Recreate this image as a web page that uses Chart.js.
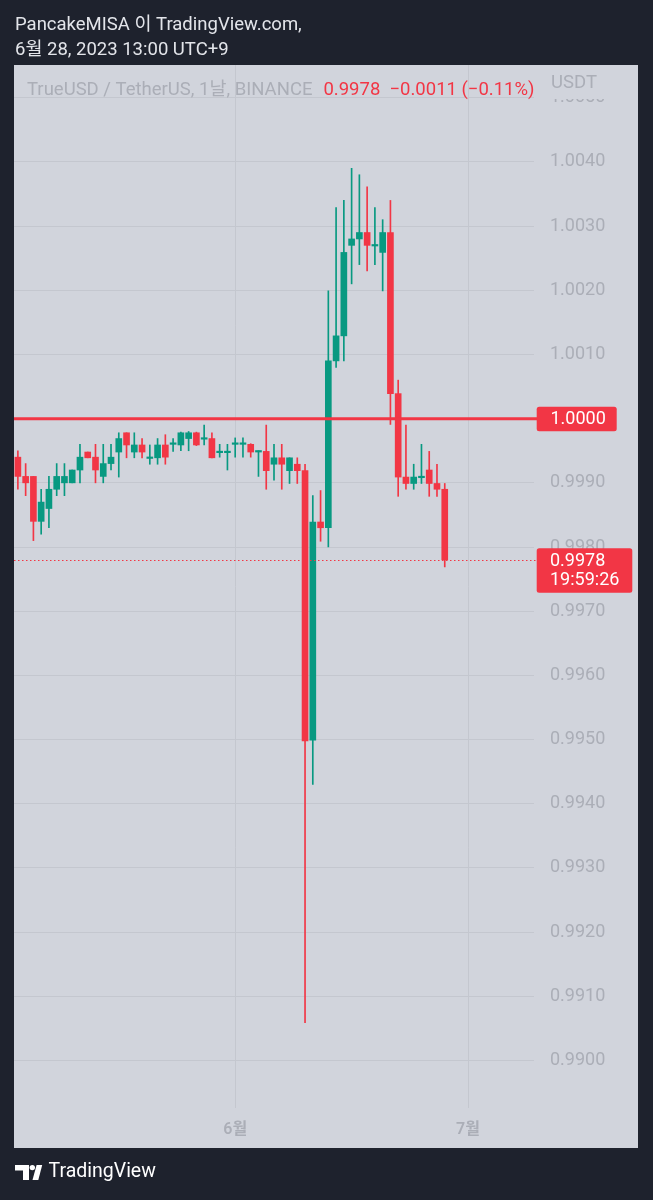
<!DOCTYPE html>
<html><head><meta charset="utf-8">
<script src="https://cdn.jsdelivr.net/npm/chart.js@4"></script>
<style>html,body{margin:0;padding:0;background:#1e222d;}canvas{display:block}</style>
</head><body>
<canvas id="c" width="653" height="1200"></canvas>
<script>
// ---- data ----
const startYear = 2023, startMonth = 5, startDay = 4; // first visible daily candle (May 4)
const dayCount = 67;                                   // days spanned by the time axis
const dates = [];
for (let i = 0; i < dayCount; i++) {
  const d = new Date(Date.UTC(startYear, startMonth - 1, startDay + i));
  dates.push(String(d.getUTCMonth() + 1).padStart(2, '0') + '-' + String(d.getUTCDate()).padStart(2, '0'));
}
const monthLabels = { '06-01': '6월', '07-01': '7월' };

const opens  = [0.9994,0.9991,0.9991,0.9984,0.9986,0.9989,0.9990,0.9990,0.9992,0.99948,
                0.9994,0.9991,0.9993,0.99948,0.99978,0.99948,0.99959,0.99938,0.99939,0.99959,
                0.99960,0.99959,0.99969,0.99978,0.99968,0.99969,0.99947,0.99947,0.99960,0.99960,
                0.99960,0.99948,0.99949,0.99929,0.99939,0.99919,0.99929,0.99919,0.99499,0.99839,
                0.99830,1.00090,1.00129,1.00270,1.00280,1.00290,1.00269,1.00259,1.00290,1.00039,
                0.99909,0.99899,0.99908,0.99920,0.99899,0.99890];
const highs  = [0.9995,0.9993,0.9991,0.9989,0.9991,0.9993,0.9993,0.9992,0.9996,0.99948,
                0.9996,0.9996,0.9996,0.99978,0.99978,0.99978,0.99969,0.99959,0.99969,0.99975,
                0.99969,0.99979,0.99980,0.99979,0.99990,0.99978,0.99960,0.99960,0.99970,0.99970,
                0.99961,0.99950,0.99990,0.99960,0.99960,0.99939,0.99939,0.99929,0.99880,0.99888,
                1.00199,1.00329,1.00340,1.00390,1.00380,1.00361,1.00329,1.00310,1.00340,1.00060,
                0.99990,0.99929,0.99960,0.99949,0.99929,0.99899];
const lows   = [0.9989,0.9988,0.9981,0.9982,0.9983,0.9988,0.9988,0.9990,0.9990,0.99939,
                0.9990,0.9990,0.9992,0.99909,0.99939,0.99939,0.99939,0.99929,0.99929,0.99929,
                0.99949,0.99950,0.99950,0.99958,0.99959,0.99939,0.99940,0.99920,0.99940,0.99940,
                0.99940,0.99910,0.99890,0.99904,0.99890,0.99899,0.99899,0.99059,0.99430,0.99809,
                0.99800,1.00080,1.00090,1.00210,1.00240,1.00230,1.00240,1.00199,0.99991,0.99879,
                0.99890,0.99890,0.99899,0.99879,0.99879,0.99769];
const closes = [0.9991,0.9990,0.9984,0.9987,0.9989,0.9991,0.9991,0.9992,0.9994,0.99939,
                0.9992,0.9993,0.9994,0.99969,0.99959,0.99959,0.99948,0.99940,0.99959,0.99940,
                0.99961,0.99978,0.99978,0.99959,0.99969,0.99939,0.99948,0.99948,0.99961,0.99961,
                0.99948,0.99949,0.99919,0.99939,0.99929,0.99939,0.99919,0.99498,0.99839,0.99830,
                1.00090,1.00129,1.00259,1.00280,1.00290,1.00270,1.00270,1.00290,1.00039,0.99909,
                0.99899,0.99909,0.99909,0.99899,0.99890,0.99780];
const yTicks = [0.9900,0.9910,0.9920,0.9930,0.9940,0.9950,0.9960,0.9970,0.9980,0.9990,
                1.0000,1.0010,1.0020,1.0030,1.0040,1.0050];
const yMin = 0.98926, yMax = 1.00551;
const levelPrice = 1.0000;      // drawn horizontal line
const countdown = '19:59:26';
const symbolText = 'TrueUSD / TetherUS, 1날, BINANCE';
const headerLines = ['PancakeMISA 이 TradingView.com,', '6월 28, 2023 13:00 UTC+9'];

// ---- styling ----
const FONT = 'Roboto, "Noto Sans CJK KR", "Noto Sans", sans-serif';
const C = { dark:'#1e222d', panel:'#d1d4dc', grid:'#c4c7cf', text:'#abaeb7',
            red:'#f23645', green:'#089981', white:'#e3e5ea' };
const panel = { l:14, t:65, r:638, b:1148 };

const lastClose = closes[closes.length - 1];
const prevClose = closes[closes.length - 2];
const chg = lastClose - prevClose;
const pct = chg / prevClose * 100;
const sgn = v => (v < 0 ? '\u2212' : '+');
const changeText = lastClose.toFixed(4) + '  ' + sgn(chg) + Math.abs(chg).toFixed(4) +
                   ' (' + sgn(pct) + Math.abs(pct).toFixed(2) + '%)';

const candleColors = opens.map((o, i) => closes[i] >= o ? C.green : C.red);

function roundRect(ctx, x, y, w, h, r) {
  ctx.beginPath();
  ctx.moveTo(x + r, y); ctx.lineTo(x + w - r, y); ctx.quadraticCurveTo(x + w, y, x + w, y + r);
  ctx.lineTo(x + w, y + h - r); ctx.quadraticCurveTo(x + w, y + h, x + w - r, y + h);
  ctx.lineTo(x + r, y + h); ctx.quadraticCurveTo(x, y + h, x, y + h - r);
  ctx.lineTo(x, y + r); ctx.quadraticCurveTo(x, y, x + r, y); ctx.closePath();
}

const tvPlugin = {
  id: 'tv',
  beforeDraw(chart) {
    const ctx = chart.ctx;
    ctx.save();
    ctx.fillStyle = C.dark; ctx.fillRect(0, 0, chart.width, chart.height);
    ctx.fillStyle = C.panel; ctx.fillRect(panel.l, panel.t, panel.r - panel.l, panel.b - panel.t);
    ctx.restore();
  },
  afterDatasetsDraw(chart) {
    const { ctx, chartArea: a, scales: { y } } = chart;
    ctx.save();
    const ly = y.getPixelForValue(levelPrice);
    ctx.strokeStyle = C.red; ctx.lineWidth = 3;
    ctx.beginPath(); ctx.moveTo(panel.l, ly); ctx.lineTo(a.right + 3, ly); ctx.stroke();
    const py = Math.round(y.getPixelForValue(lastClose)) + 0.5;
    ctx.lineWidth = 1; ctx.setLineDash([1.5, 2.5]);
    ctx.beginPath(); ctx.moveTo(panel.l, py); ctx.lineTo(a.right + 3, py); ctx.stroke();
    ctx.restore();
  },
  afterDraw(chart) {
    const { ctx, chartArea: a, scales: { y } } = chart;
    ctx.save();
    // hide top part of price axis under legend row
    ctx.fillStyle = C.panel;
    ctx.fillRect(a.right + 1, panel.t, panel.r - a.right - 1, 34);
    ctx.textBaseline = 'middle'; ctx.textAlign = 'left';
    ctx.font = '18.5px ' + FONT; ctx.fillStyle = C.text;
    ctx.fillText('USDT', 551, 83);
    // legend
    ctx.font = '18.5px ' + FONT;
    ctx.fillText(symbolText, 27, 90);
    const w = ctx.measureText(symbolText).width;
    ctx.fillStyle = C.red;
    ctx.fillText(changeText, 27 + w + 11, 90);
    // level label
    const ly = y.getPixelForValue(levelPrice);
    ctx.fillStyle = C.red;
    roundRect(ctx, a.right + 2.7, ly - 12, 80, 24.5, 2.5); ctx.fill();
    ctx.fillStyle = '#ffffff'; ctx.font = '18px ' + FONT;
    ctx.fillText(levelPrice.toFixed(4), 550.5, ly + 1);
    // last price label
    const py = y.getPixelForValue(lastClose);
    ctx.fillStyle = C.red;
    roundRect(ctx, a.right + 2.7, py - 11.5, 95.6, 44.5, 2.5); ctx.fill();
    ctx.fillStyle = '#ffffff';
    ctx.fillText(lastClose.toFixed(4), 550, py + 1.5);
    ctx.fillText(countdown, 550, py + 20.5);
    // header
    ctx.fillStyle = C.white; ctx.font = '18.5px ' + FONT;
    ctx.fillText(headerLines[0], 15, 25);
    ctx.fillText(headerLines[1], 15, 50);
    // TradingView logo
    ctx.fillStyle = '#ffffff';
    ctx.fillRect(15, 1165, 14, 5.5);
    ctx.fillRect(23, 1165, 6, 15);
    ctx.beginPath(); ctx.arc(32.3, 1167.6, 2.7, 0, Math.PI * 2); ctx.fill();
    ctx.beginPath();
    ctx.moveTo(32.5, 1180); ctx.lineTo(38.3, 1180); ctx.lineTo(42.2, 1165); ctx.lineTo(36.6, 1165);
    ctx.closePath(); ctx.fill();
    ctx.font = '19.5px ' + FONT;
    ctx.fillText('TradingView', 48.5, 1172.5);
    ctx.restore();
  }
};

new Chart(document.getElementById('c'), {
  type: 'bar',
  data: {
    labels: dates,
    datasets: [
      { label: 'body', data: opens.map((o, i) => [o, closes[i]]),
        backgroundColor: candleColors, borderWidth: 0, barThickness: 6,
        minBarLength: 1.5, grouped: false },
      { label: 'wick', data: lows.map((l, i) => [l, highs[i]]),
        backgroundColor: candleColors, borderWidth: 0, barThickness: 1, grouped: false }
    ]
  },
  options: {
    responsive: false, animation: false, devicePixelRatio: 1,
    layout: { padding: { left: 14, top: 65, right: 15, bottom: 52 } },
    plugins: { legend: { display: false }, tooltip: { enabled: false } },
    scales: {
      x: {
        offset: true,
        border: { display: false },
        grid: { offset: false, drawTicks: false, lineWidth: 1,
                color: c => (c.tick && monthLabels[dates[c.tick.value]]) ? C.grid : 'rgba(0,0,0,0)' },
        ticks: { autoSkip: false, maxRotation: 0, minRotation: 0, padding: 12,
                 color: C.text, font: { family: FONT, size: 16, weight: '600' },
                 callback: (v) => monthLabels[dates[v]] || '' },
        afterFit: s => { s.height = 40; }
      },
      y: {
        position: 'right', min: yMin, max: yMax,
        border: { display: false },
        grid: { color: C.grid, drawTicks: false, lineWidth: 1 },
        afterBuildTicks: s => { s.ticks = yTicks.map(v => ({ value: v })); },
        ticks: { padding: 16, color: C.text, font: { family: FONT, size: 18 },
                 callback: v => Number(v).toFixed(4) },
        afterFit: s => { s.width = 104; }
      }
    }
  },
  plugins: [tvPlugin]
});
</script>
</body></html>
